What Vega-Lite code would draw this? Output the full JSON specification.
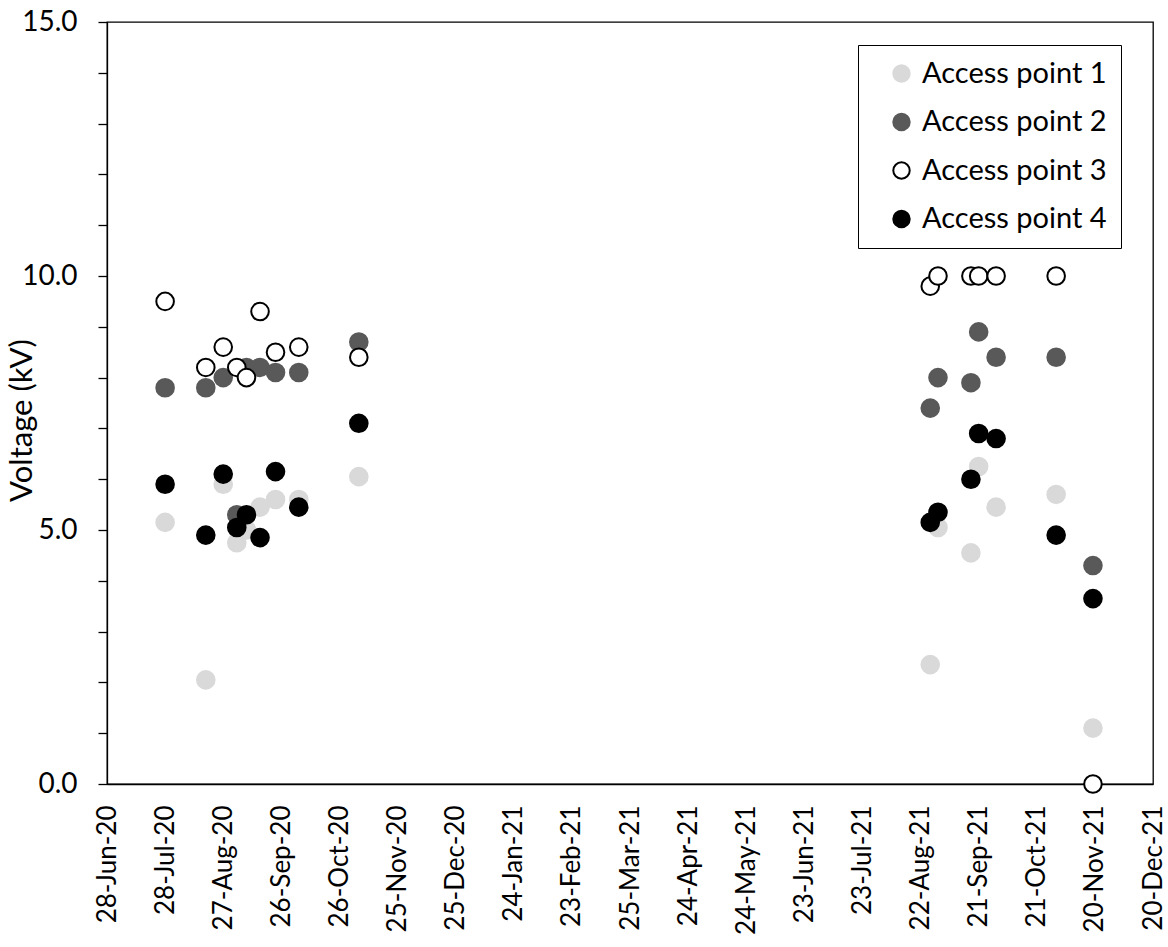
{
  "$schema": "https://vega.github.io/schema/vega-lite/v6.json",
  "width": 1046,
  "height": 762,
  "autosize": {"type": "none"},
  "padding": {"left": 107, "top": 22, "right": 15, "bottom": 163},
  "background": "white",
  "config": {
    "font": "Lato",
    "view": {"stroke": "black", "strokeWidth": 1.3},
    "axis": {"domainColor": "black", "domainWidth": 1.3, "tickColor": "black", "tickWidth": 1.3, "labelColor": "black", "titleColor": "black", "grid": false},
    "axisY": {"titleFontSize": 31, "titleFontWeight": "normal"}
  },
  "data": {
    "values": [
      {"d": "2020-07-28", "v": 5.15, "s": "Access point 1"},
      {"d": "2020-08-18", "v": 2.05, "s": "Access point 1"},
      {"d": "2020-08-27", "v": 5.9, "s": "Access point 1"},
      {"d": "2020-09-03", "v": 4.75, "s": "Access point 1"},
      {"d": "2020-09-08", "v": 5.0, "s": "Access point 1"},
      {"d": "2020-09-15", "v": 5.45, "s": "Access point 1"},
      {"d": "2020-09-23", "v": 5.6, "s": "Access point 1"},
      {"d": "2020-10-05", "v": 5.6, "s": "Access point 1"},
      {"d": "2020-11-05", "v": 6.05, "s": "Access point 1"},
      {"d": "2021-08-27", "v": 2.35, "s": "Access point 1"},
      {"d": "2021-08-31", "v": 5.05, "s": "Access point 1"},
      {"d": "2021-09-17", "v": 4.55, "s": "Access point 1"},
      {"d": "2021-09-21", "v": 6.25, "s": "Access point 1"},
      {"d": "2021-09-30", "v": 5.45, "s": "Access point 1"},
      {"d": "2021-10-31", "v": 5.7, "s": "Access point 1"},
      {"d": "2021-11-19", "v": 1.1, "s": "Access point 1"},
      {"d": "2020-07-28", "v": 7.8, "s": "Access point 2"},
      {"d": "2020-08-18", "v": 7.8, "s": "Access point 2"},
      {"d": "2020-08-27", "v": 8.0, "s": "Access point 2"},
      {"d": "2020-09-03", "v": 5.3, "s": "Access point 2"},
      {"d": "2020-09-08", "v": 8.2, "s": "Access point 2"},
      {"d": "2020-09-15", "v": 8.2, "s": "Access point 2"},
      {"d": "2020-09-23", "v": 8.1, "s": "Access point 2"},
      {"d": "2020-10-05", "v": 8.1, "s": "Access point 2"},
      {"d": "2020-11-05", "v": 8.7, "s": "Access point 2"},
      {"d": "2021-08-27", "v": 7.4, "s": "Access point 2"},
      {"d": "2021-08-31", "v": 8.0, "s": "Access point 2"},
      {"d": "2021-09-17", "v": 7.9, "s": "Access point 2"},
      {"d": "2021-09-21", "v": 8.9, "s": "Access point 2"},
      {"d": "2021-09-30", "v": 8.4, "s": "Access point 2"},
      {"d": "2021-10-31", "v": 8.4, "s": "Access point 2"},
      {"d": "2021-11-19", "v": 4.3, "s": "Access point 2"},
      {"d": "2020-07-28", "v": 9.5, "s": "Access point 3"},
      {"d": "2020-08-18", "v": 8.2, "s": "Access point 3"},
      {"d": "2020-08-27", "v": 8.6, "s": "Access point 3"},
      {"d": "2020-09-03", "v": 8.2, "s": "Access point 3"},
      {"d": "2020-09-08", "v": 8.0, "s": "Access point 3"},
      {"d": "2020-09-15", "v": 9.3, "s": "Access point 3"},
      {"d": "2020-09-23", "v": 8.5, "s": "Access point 3"},
      {"d": "2020-10-05", "v": 8.6, "s": "Access point 3"},
      {"d": "2020-11-05", "v": 8.4, "s": "Access point 3"},
      {"d": "2021-08-27", "v": 9.8, "s": "Access point 3"},
      {"d": "2021-08-31", "v": 10.0, "s": "Access point 3"},
      {"d": "2021-09-17", "v": 10.0, "s": "Access point 3"},
      {"d": "2021-09-21", "v": 10.0, "s": "Access point 3"},
      {"d": "2021-09-30", "v": 10.0, "s": "Access point 3"},
      {"d": "2021-10-31", "v": 10.0, "s": "Access point 3"},
      {"d": "2021-11-19", "v": 0.0, "s": "Access point 3"},
      {"d": "2020-07-28", "v": 5.9, "s": "Access point 4"},
      {"d": "2020-08-18", "v": 4.9, "s": "Access point 4"},
      {"d": "2020-08-27", "v": 6.1, "s": "Access point 4"},
      {"d": "2020-09-03", "v": 5.05, "s": "Access point 4"},
      {"d": "2020-09-08", "v": 5.3, "s": "Access point 4"},
      {"d": "2020-09-15", "v": 4.85, "s": "Access point 4"},
      {"d": "2020-09-23", "v": 6.15, "s": "Access point 4"},
      {"d": "2020-10-05", "v": 5.45, "s": "Access point 4"},
      {"d": "2020-11-05", "v": 7.1, "s": "Access point 4"},
      {"d": "2021-08-27", "v": 5.15, "s": "Access point 4"},
      {"d": "2021-08-31", "v": 5.35, "s": "Access point 4"},
      {"d": "2021-09-17", "v": 6.0, "s": "Access point 4"},
      {"d": "2021-09-21", "v": 6.9, "s": "Access point 4"},
      {"d": "2021-09-30", "v": 6.8, "s": "Access point 4"},
      {"d": "2021-10-31", "v": 4.9, "s": "Access point 4"},
      {"d": "2021-11-19", "v": 3.65, "s": "Access point 4"}
    ]
  },
  "mark": {"type": "point", "filled": false, "strokeWidth": 2, "size": 310, "opacity": 1, "shape": "circle", "clip": false},
  "encoding": {
    "x": {
      "field": "d", "type": "temporal",
      "scale": {"type": "utc", "domain": [{"year": 2020, "month": 6, "date": 28, "utc": true}, {"year": 2021, "month": 12, "date": 20, "utc": true}], "nice": false},
      "axis": {
        "title": null, "labelExpr": "utcFormat(datum.value, '%d-%b-%y')", "labelAngle": -90, "ticks": false, "labelPadding": 21, "labelFontSize": 26,
        "values": [
          {"year": 2020, "month": 6, "date": 28, "utc": true},
          {"year": 2020, "month": 7, "date": 28, "utc": true},
          {"year": 2020, "month": 8, "date": 27, "utc": true},
          {"year": 2020, "month": 9, "date": 26, "utc": true},
          {"year": 2020, "month": 10, "date": 26, "utc": true},
          {"year": 2020, "month": 11, "date": 25, "utc": true},
          {"year": 2020, "month": 12, "date": 25, "utc": true},
          {"year": 2021, "month": 1, "date": 24, "utc": true},
          {"year": 2021, "month": 2, "date": 23, "utc": true},
          {"year": 2021, "month": 3, "date": 25, "utc": true},
          {"year": 2021, "month": 4, "date": 24, "utc": true},
          {"year": 2021, "month": 5, "date": 24, "utc": true},
          {"year": 2021, "month": 6, "date": 23, "utc": true},
          {"year": 2021, "month": 7, "date": 23, "utc": true},
          {"year": 2021, "month": 8, "date": 22, "utc": true},
          {"year": 2021, "month": 9, "date": 21, "utc": true},
          {"year": 2021, "month": 10, "date": 21, "utc": true},
          {"year": 2021, "month": 11, "date": 20, "utc": true},
          {"year": 2021, "month": 12, "date": 20, "utc": true}
        ],
        "labelOverlap": false, "labelBound": false, "labelFlush": false
      }
    },
    "y": {
      "field": "v", "type": "quantitative",
      "scale": {"domain": [0, 15], "nice": false, "zero": true},
      "axis": {
        "title": "Voltage (kV)", "titleFontSize": 31, "titleFontWeight": "normal",
        "titleAngle": 270, "titleAlign": "center", "titleBaseline": "middle", "titleX": -85, "titleY": 398,
        "values": [0, 1, 2, 3, 4, 5, 6, 7, 8, 9, 10, 11, 12, 13, 14, 15],
        "labelExpr": "datum.value % 5 === 0 ? format(datum.value, '.1f') : ''",
        "labelFontSize": 28, "tickSize": 9, "labelPadding": 21, "labelOverlap": false, "labelFlush": false
      }
    },
    "fill": {
      "field": "s", "type": "nominal",
      "scale": {"domain": ["Access point 1", "Access point 2", "Access point 3", "Access point 4"], "range": ["#d9d9d9", "#595959", "#ffffff", "#000000"]},
      "legend": {
        "title": null, "orient": "none", "legendX": 751, "legendY": 23,
        "strokeColor": "black", "padding": 14, "labelFontSize": 29, "labelColor": "black", "rowPadding": 18.5, "labelLimit": 400,
        "symbolSize": 270, "symbolStrokeWidth": 2, "labelOffset": 6, "symbolOffset": 15, "fillColor": "white"
      }
    },
    "stroke": {
      "field": "s", "type": "nominal",
      "scale": {"domain": ["Access point 1", "Access point 2", "Access point 3", "Access point 4"], "range": ["#d9d9d9", "#595959", "#000000", "#000000"]},
      "legend": {
        "title": null, "orient": "none", "legendX": 751, "legendY": 23,
        "strokeColor": "black", "padding": 14, "labelFontSize": 29, "labelColor": "black", "rowPadding": 18.5, "labelLimit": 400,
        "symbolSize": 270, "symbolStrokeWidth": 2, "labelOffset": 6, "symbolOffset": 15, "fillColor": "white"
      }
    }
  }
}
